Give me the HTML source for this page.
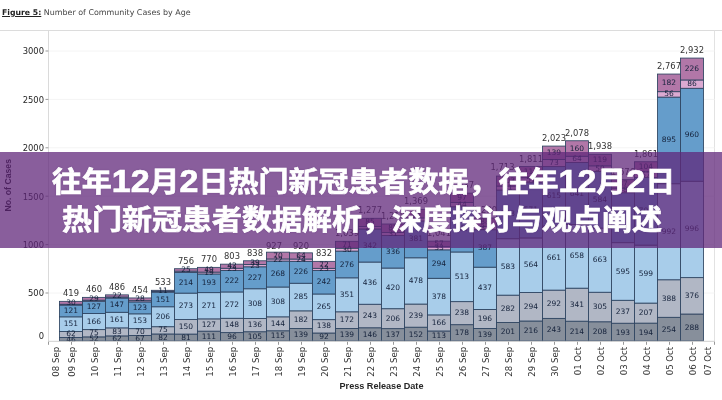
<!DOCTYPE html>
<html lang="zh-CN">
<head>
<meta charset="utf-8">
<title>往年12月2日热门新冠患者数据</title>
<style>
html,body{margin:0;padding:0;}
body{width:722px;height:400px;overflow:hidden;background:#fff;position:relative;font-family:"Liberation Sans","Noto Sans CJK SC",sans-serif;}
.chart{position:absolute;left:0;top:0;display:block;}
.figtitle{position:absolute;left:2px;top:6.5px;font-family:"DejaVu Sans","Liberation Sans",sans-serif;font-size:7.95px;line-height:12px;color:#444;white-space:nowrap;}
.figtitle b{text-decoration:underline;color:#222;font-size:7.75px;}
h1 span{position:relative;display:inline-block;transform:scaleY(0.93);transform-origin:50% 50%;white-space:nowrap;}
.l1{left:2.5px;}
.l2{left:1px;}
b.d{font-size:34px;line-height:1px;font-weight:bold;}
.band{position:absolute;left:0;top:152px;width:722px;height:96px;background:rgba(96,38,122,0.74);}
.band h1{margin:0;padding:12.4px 0 0 0;text-align:center;color:#fff;font-weight:bold;font-size:30px;line-height:37.5px;-webkit-text-stroke:0.75px #fff;text-shadow:0 0 2px rgba(70,30,100,0.45);font-family:"Liberation Sans","Noto Sans CJK SC",sans-serif;}
</style>
</head>
<body>
<svg class="chart" width="722" height="400" viewBox="0 0 722 400">
<line x1="0" y1="30.5" x2="722" y2="30.5" stroke="#dcdcdc" stroke-width="1"/>
<line x1="48.5" y1="30.5" x2="48.5" y2="341.3" stroke="#dadada" stroke-width="1"/>
<line x1="714.5" y1="30.5" x2="714.5" y2="341.3" stroke="#e2e2e2" stroke-width="1"/>
<g font-family="'DejaVu Sans', 'Liberation Sans', sans-serif" font-size="8.4" fill="#262626" text-anchor="end">
<line x1="48.5" y1="293.0" x2="714.5" y2="293.0" stroke="#f4f4f4" stroke-width="1"/>
<line x1="45.5" y1="293.0" x2="48.5" y2="293.0" stroke="#999" stroke-width="1"/>
<text x="44" y="296.3">500</text>
<line x1="48.5" y1="244.6" x2="714.5" y2="244.6" stroke="#f4f4f4" stroke-width="1"/>
<line x1="45.5" y1="244.6" x2="48.5" y2="244.6" stroke="#999" stroke-width="1"/>
<text x="44" y="247.9">1000</text>
<line x1="48.5" y1="196.2" x2="714.5" y2="196.2" stroke="#f4f4f4" stroke-width="1"/>
<line x1="45.5" y1="196.2" x2="48.5" y2="196.2" stroke="#999" stroke-width="1"/>
<text x="44" y="199.5">1500</text>
<line x1="48.5" y1="147.8" x2="714.5" y2="147.8" stroke="#f4f4f4" stroke-width="1"/>
<line x1="45.5" y1="147.8" x2="48.5" y2="147.8" stroke="#999" stroke-width="1"/>
<text x="44" y="151.1">2000</text>
<line x1="48.5" y1="99.4" x2="714.5" y2="99.4" stroke="#f4f4f4" stroke-width="1"/>
<line x1="45.5" y1="99.4" x2="48.5" y2="99.4" stroke="#999" stroke-width="1"/>
<text x="44" y="102.7">2500</text>
<line x1="48.5" y1="51.0" x2="714.5" y2="51.0" stroke="#f4f4f4" stroke-width="1"/>
<line x1="45.5" y1="51.0" x2="48.5" y2="51.0" stroke="#999" stroke-width="1"/>
<text x="44" y="54.3">3000</text>
<text x="44" y="338.6">0</text>
</g>
<rect x="59.5" y="337.45" width="23" height="3.35" fill="#878f9b" stroke="#2d4360" stroke-width="0.85"/>
<rect x="59.5" y="331.45" width="23" height="6.00" fill="#b1b7c5" stroke="#2d4360" stroke-width="0.85"/>
<rect x="59.5" y="316.83" width="23" height="14.62" fill="#a8cdea" stroke="#2d4360" stroke-width="0.85"/>
<rect x="59.5" y="305.12" width="23" height="11.71" fill="#659dcb" stroke="#2d4360" stroke-width="0.85"/>
<rect x="59.5" y="304.24" width="23" height="0.87" fill="#dbaad2" stroke="#2d4360" stroke-width="0.85"/>
<rect x="59.5" y="301.34" width="23" height="2.90" fill="#b277a8" stroke="#2d4360" stroke-width="0.85"/>
<rect x="82.5" y="336.87" width="23" height="3.93" fill="#878f9b" stroke="#2d4360" stroke-width="0.85"/>
<rect x="82.5" y="329.61" width="23" height="7.26" fill="#b1b7c5" stroke="#2d4360" stroke-width="0.85"/>
<rect x="82.5" y="313.54" width="23" height="16.07" fill="#a8cdea" stroke="#2d4360" stroke-width="0.85"/>
<rect x="82.5" y="301.24" width="23" height="12.29" fill="#659dcb" stroke="#2d4360" stroke-width="0.85"/>
<rect x="82.5" y="300.18" width="23" height="1.06" fill="#dbaad2" stroke="#2d4360" stroke-width="0.85"/>
<rect x="82.5" y="297.37" width="23" height="2.81" fill="#b277a8" stroke="#2d4360" stroke-width="0.85"/>
<rect x="105.5" y="335.90" width="23" height="4.90" fill="#878f9b" stroke="#2d4360" stroke-width="0.85"/>
<rect x="105.5" y="327.86" width="23" height="8.03" fill="#b1b7c5" stroke="#2d4360" stroke-width="0.85"/>
<rect x="105.5" y="312.28" width="23" height="15.58" fill="#a8cdea" stroke="#2d4360" stroke-width="0.85"/>
<rect x="105.5" y="298.05" width="23" height="14.23" fill="#659dcb" stroke="#2d4360" stroke-width="0.85"/>
<rect x="105.5" y="296.98" width="23" height="1.06" fill="#dbaad2" stroke="#2d4360" stroke-width="0.85"/>
<rect x="105.5" y="294.86" width="23" height="2.13" fill="#b277a8" stroke="#2d4360" stroke-width="0.85"/>
<rect x="128.5" y="335.41" width="23" height="5.39" fill="#878f9b" stroke="#2d4360" stroke-width="0.85"/>
<rect x="128.5" y="328.64" width="23" height="6.78" fill="#b1b7c5" stroke="#2d4360" stroke-width="0.85"/>
<rect x="128.5" y="313.83" width="23" height="14.81" fill="#a8cdea" stroke="#2d4360" stroke-width="0.85"/>
<rect x="128.5" y="301.92" width="23" height="11.91" fill="#659dcb" stroke="#2d4360" stroke-width="0.85"/>
<rect x="128.5" y="300.66" width="23" height="1.26" fill="#dbaad2" stroke="#2d4360" stroke-width="0.85"/>
<rect x="128.5" y="297.95" width="23" height="2.71" fill="#b277a8" stroke="#2d4360" stroke-width="0.85"/>
<rect x="151.5" y="333.96" width="23" height="6.84" fill="#878f9b" stroke="#2d4360" stroke-width="0.85"/>
<rect x="151.5" y="326.70" width="23" height="7.26" fill="#b1b7c5" stroke="#2d4360" stroke-width="0.85"/>
<rect x="151.5" y="306.76" width="23" height="19.94" fill="#a8cdea" stroke="#2d4360" stroke-width="0.85"/>
<rect x="151.5" y="292.14" width="23" height="14.62" fill="#659dcb" stroke="#2d4360" stroke-width="0.85"/>
<rect x="151.5" y="291.37" width="23" height="0.77" fill="#dbaad2" stroke="#2d4360" stroke-width="0.85"/>
<rect x="151.5" y="290.31" width="23" height="1.06" fill="#b277a8" stroke="#2d4360" stroke-width="0.85"/>
<rect x="174.5" y="334.06" width="23" height="6.74" fill="#878f9b" stroke="#2d4360" stroke-width="0.85"/>
<rect x="174.5" y="319.54" width="23" height="14.52" fill="#b1b7c5" stroke="#2d4360" stroke-width="0.85"/>
<rect x="174.5" y="293.11" width="23" height="26.43" fill="#a8cdea" stroke="#2d4360" stroke-width="0.85"/>
<rect x="174.5" y="272.40" width="23" height="20.72" fill="#659dcb" stroke="#2d4360" stroke-width="0.85"/>
<rect x="174.5" y="271.14" width="23" height="1.26" fill="#dbaad2" stroke="#2d4360" stroke-width="0.85"/>
<rect x="174.5" y="268.72" width="23" height="2.42" fill="#b277a8" stroke="#2d4360" stroke-width="0.85"/>
<rect x="197.5" y="331.16" width="23" height="9.64" fill="#878f9b" stroke="#2d4360" stroke-width="0.85"/>
<rect x="197.5" y="318.86" width="23" height="12.29" fill="#b1b7c5" stroke="#2d4360" stroke-width="0.85"/>
<rect x="197.5" y="292.63" width="23" height="26.23" fill="#a8cdea" stroke="#2d4360" stroke-width="0.85"/>
<rect x="197.5" y="273.95" width="23" height="18.68" fill="#659dcb" stroke="#2d4360" stroke-width="0.85"/>
<rect x="197.5" y="272.11" width="23" height="1.84" fill="#dbaad2" stroke="#2d4360" stroke-width="0.85"/>
<rect x="197.5" y="267.36" width="23" height="4.74" fill="#b277a8" stroke="#2d4360" stroke-width="0.85"/>
<rect x="220.5" y="332.61" width="23" height="8.19" fill="#878f9b" stroke="#2d4360" stroke-width="0.85"/>
<rect x="220.5" y="318.28" width="23" height="14.33" fill="#b1b7c5" stroke="#2d4360" stroke-width="0.85"/>
<rect x="220.5" y="291.95" width="23" height="26.33" fill="#a8cdea" stroke="#2d4360" stroke-width="0.85"/>
<rect x="220.5" y="270.46" width="23" height="21.49" fill="#659dcb" stroke="#2d4360" stroke-width="0.85"/>
<rect x="220.5" y="268.24" width="23" height="2.23" fill="#dbaad2" stroke="#2d4360" stroke-width="0.85"/>
<rect x="220.5" y="264.17" width="23" height="4.07" fill="#b277a8" stroke="#2d4360" stroke-width="0.85"/>
<rect x="243.5" y="331.74" width="23" height="9.06" fill="#878f9b" stroke="#2d4360" stroke-width="0.85"/>
<rect x="243.5" y="318.57" width="23" height="13.16" fill="#b1b7c5" stroke="#2d4360" stroke-width="0.85"/>
<rect x="243.5" y="288.76" width="23" height="29.81" fill="#a8cdea" stroke="#2d4360" stroke-width="0.85"/>
<rect x="243.5" y="266.78" width="23" height="21.97" fill="#659dcb" stroke="#2d4360" stroke-width="0.85"/>
<rect x="243.5" y="264.56" width="23" height="2.23" fill="#dbaad2" stroke="#2d4360" stroke-width="0.85"/>
<rect x="243.5" y="260.78" width="23" height="3.78" fill="#b277a8" stroke="#2d4360" stroke-width="0.85"/>
<rect x="266.5" y="330.77" width="23" height="10.03" fill="#878f9b" stroke="#2d4360" stroke-width="0.85"/>
<rect x="266.5" y="316.83" width="23" height="13.94" fill="#b1b7c5" stroke="#2d4360" stroke-width="0.85"/>
<rect x="266.5" y="287.01" width="23" height="29.81" fill="#a8cdea" stroke="#2d4360" stroke-width="0.85"/>
<rect x="266.5" y="261.07" width="23" height="25.94" fill="#659dcb" stroke="#2d4360" stroke-width="0.85"/>
<rect x="266.5" y="258.94" width="23" height="2.13" fill="#dbaad2" stroke="#2d4360" stroke-width="0.85"/>
<rect x="266.5" y="252.17" width="23" height="6.78" fill="#b277a8" stroke="#2d4360" stroke-width="0.85"/>
<rect x="289.5" y="328.44" width="23" height="12.36" fill="#878f9b" stroke="#2d4360" stroke-width="0.85"/>
<rect x="289.5" y="310.83" width="23" height="17.62" fill="#b1b7c5" stroke="#2d4360" stroke-width="0.85"/>
<rect x="289.5" y="283.24" width="23" height="27.59" fill="#a8cdea" stroke="#2d4360" stroke-width="0.85"/>
<rect x="289.5" y="261.36" width="23" height="21.88" fill="#659dcb" stroke="#2d4360" stroke-width="0.85"/>
<rect x="289.5" y="259.04" width="23" height="2.32" fill="#dbaad2" stroke="#2d4360" stroke-width="0.85"/>
<rect x="289.5" y="252.84" width="23" height="6.20" fill="#b277a8" stroke="#2d4360" stroke-width="0.85"/>
<rect x="312.5" y="332.99" width="23" height="7.81" fill="#878f9b" stroke="#2d4360" stroke-width="0.85"/>
<rect x="312.5" y="319.64" width="23" height="13.36" fill="#b1b7c5" stroke="#2d4360" stroke-width="0.85"/>
<rect x="312.5" y="293.98" width="23" height="25.65" fill="#a8cdea" stroke="#2d4360" stroke-width="0.85"/>
<rect x="312.5" y="270.56" width="23" height="23.43" fill="#659dcb" stroke="#2d4360" stroke-width="0.85"/>
<rect x="312.5" y="268.33" width="23" height="2.23" fill="#dbaad2" stroke="#2d4360" stroke-width="0.85"/>
<rect x="312.5" y="261.36" width="23" height="6.97" fill="#b277a8" stroke="#2d4360" stroke-width="0.85"/>
<rect x="335.5" y="328.44" width="23" height="12.36" fill="#878f9b" stroke="#2d4360" stroke-width="0.85"/>
<rect x="335.5" y="311.80" width="23" height="16.65" fill="#b1b7c5" stroke="#2d4360" stroke-width="0.85"/>
<rect x="335.5" y="277.82" width="23" height="33.98" fill="#a8cdea" stroke="#2d4360" stroke-width="0.85"/>
<rect x="335.5" y="251.10" width="23" height="26.72" fill="#659dcb" stroke="#2d4360" stroke-width="0.85"/>
<rect x="335.5" y="248.20" width="23" height="2.90" fill="#dbaad2" stroke="#2d4360" stroke-width="0.85"/>
<rect x="335.5" y="241.32" width="23" height="6.87" fill="#b277a8" stroke="#2d4360" stroke-width="0.85"/>
<rect x="358.5" y="327.77" width="23" height="13.03" fill="#878f9b" stroke="#2d4360" stroke-width="0.85"/>
<rect x="358.5" y="304.24" width="23" height="23.52" fill="#b1b7c5" stroke="#2d4360" stroke-width="0.85"/>
<rect x="358.5" y="262.04" width="23" height="42.20" fill="#a8cdea" stroke="#2d4360" stroke-width="0.85"/>
<rect x="358.5" y="228.93" width="23" height="33.11" fill="#659dcb" stroke="#2d4360" stroke-width="0.85"/>
<rect x="358.5" y="226.51" width="23" height="2.42" fill="#dbaad2" stroke="#2d4360" stroke-width="0.85"/>
<rect x="358.5" y="218.29" width="23" height="8.23" fill="#b277a8" stroke="#2d4360" stroke-width="0.85"/>
<rect x="381.5" y="328.64" width="23" height="12.16" fill="#878f9b" stroke="#2d4360" stroke-width="0.85"/>
<rect x="381.5" y="308.70" width="23" height="19.94" fill="#b1b7c5" stroke="#2d4360" stroke-width="0.85"/>
<rect x="381.5" y="268.04" width="23" height="40.66" fill="#a8cdea" stroke="#2d4360" stroke-width="0.85"/>
<rect x="381.5" y="235.52" width="23" height="32.52" fill="#659dcb" stroke="#2d4360" stroke-width="0.85"/>
<rect x="381.5" y="232.52" width="23" height="3.00" fill="#dbaad2" stroke="#2d4360" stroke-width="0.85"/>
<rect x="381.5" y="224.00" width="23" height="8.52" fill="#b277a8" stroke="#2d4360" stroke-width="0.85"/>
<rect x="404.5" y="327.19" width="23" height="13.61" fill="#878f9b" stroke="#2d4360" stroke-width="0.85"/>
<rect x="404.5" y="304.05" width="23" height="23.14" fill="#b1b7c5" stroke="#2d4360" stroke-width="0.85"/>
<rect x="404.5" y="257.78" width="23" height="46.27" fill="#a8cdea" stroke="#2d4360" stroke-width="0.85"/>
<rect x="404.5" y="220.90" width="23" height="36.88" fill="#659dcb" stroke="#2d4360" stroke-width="0.85"/>
<rect x="404.5" y="217.90" width="23" height="3.00" fill="#dbaad2" stroke="#2d4360" stroke-width="0.85"/>
<rect x="404.5" y="209.38" width="23" height="8.52" fill="#b277a8" stroke="#2d4360" stroke-width="0.85"/>
<rect x="427.5" y="330.96" width="23" height="9.84" fill="#878f9b" stroke="#2d4360" stroke-width="0.85"/>
<rect x="427.5" y="314.89" width="23" height="16.07" fill="#b1b7c5" stroke="#2d4360" stroke-width="0.85"/>
<rect x="427.5" y="278.30" width="23" height="36.59" fill="#a8cdea" stroke="#2d4360" stroke-width="0.85"/>
<rect x="427.5" y="249.84" width="23" height="28.46" fill="#659dcb" stroke="#2d4360" stroke-width="0.85"/>
<rect x="427.5" y="246.65" width="23" height="3.19" fill="#dbaad2" stroke="#2d4360" stroke-width="0.85"/>
<rect x="427.5" y="241.13" width="23" height="5.52" fill="#b277a8" stroke="#2d4360" stroke-width="0.85"/>
<rect x="450.5" y="324.67" width="23" height="16.13" fill="#878f9b" stroke="#2d4360" stroke-width="0.85"/>
<rect x="450.5" y="301.63" width="23" height="23.04" fill="#b1b7c5" stroke="#2d4360" stroke-width="0.85"/>
<rect x="450.5" y="251.97" width="23" height="49.66" fill="#a8cdea" stroke="#2d4360" stroke-width="0.85"/>
<rect x="450.5" y="206.77" width="23" height="45.21" fill="#659dcb" stroke="#2d4360" stroke-width="0.85"/>
<rect x="450.5" y="202.51" width="23" height="4.26" fill="#dbaad2" stroke="#2d4360" stroke-width="0.85"/>
<rect x="450.5" y="193.12" width="23" height="9.39" fill="#b277a8" stroke="#2d4360" stroke-width="0.85"/>
<rect x="473.5" y="328.44" width="23" height="12.36" fill="#878f9b" stroke="#2d4360" stroke-width="0.85"/>
<rect x="473.5" y="309.47" width="23" height="18.97" fill="#b1b7c5" stroke="#2d4360" stroke-width="0.85"/>
<rect x="473.5" y="267.17" width="23" height="42.30" fill="#a8cdea" stroke="#2d4360" stroke-width="0.85"/>
<rect x="473.5" y="229.71" width="23" height="37.46" fill="#659dcb" stroke="#2d4360" stroke-width="0.85"/>
<rect x="473.5" y="226.51" width="23" height="3.19" fill="#dbaad2" stroke="#2d4360" stroke-width="0.85"/>
<rect x="473.5" y="218.00" width="23" height="8.52" fill="#b277a8" stroke="#2d4360" stroke-width="0.85"/>
<rect x="496.5" y="322.44" width="23" height="18.36" fill="#878f9b" stroke="#2d4360" stroke-width="0.85"/>
<rect x="496.5" y="295.15" width="23" height="27.30" fill="#b1b7c5" stroke="#2d4360" stroke-width="0.85"/>
<rect x="496.5" y="238.71" width="23" height="56.43" fill="#a8cdea" stroke="#2d4360" stroke-width="0.85"/>
<rect x="496.5" y="190.02" width="23" height="48.69" fill="#659dcb" stroke="#2d4360" stroke-width="0.85"/>
<rect x="496.5" y="186.05" width="23" height="3.97" fill="#dbaad2" stroke="#2d4360" stroke-width="0.85"/>
<rect x="496.5" y="176.08" width="23" height="9.97" fill="#b277a8" stroke="#2d4360" stroke-width="0.85"/>
<rect x="519.5" y="320.99" width="23" height="19.81" fill="#878f9b" stroke="#2d4360" stroke-width="0.85"/>
<rect x="519.5" y="292.53" width="23" height="28.46" fill="#b1b7c5" stroke="#2d4360" stroke-width="0.85"/>
<rect x="519.5" y="237.94" width="23" height="54.60" fill="#a8cdea" stroke="#2d4360" stroke-width="0.85"/>
<rect x="519.5" y="182.66" width="23" height="55.27" fill="#659dcb" stroke="#2d4360" stroke-width="0.85"/>
<rect x="519.5" y="177.73" width="23" height="4.94" fill="#dbaad2" stroke="#2d4360" stroke-width="0.85"/>
<rect x="519.5" y="166.60" width="23" height="11.13" fill="#b277a8" stroke="#2d4360" stroke-width="0.85"/>
<rect x="542.5" y="318.38" width="23" height="22.42" fill="#878f9b" stroke="#2d4360" stroke-width="0.85"/>
<rect x="542.5" y="290.11" width="23" height="28.27" fill="#b1b7c5" stroke="#2d4360" stroke-width="0.85"/>
<rect x="542.5" y="226.13" width="23" height="63.98" fill="#a8cdea" stroke="#2d4360" stroke-width="0.85"/>
<rect x="542.5" y="166.60" width="23" height="59.53" fill="#659dcb" stroke="#2d4360" stroke-width="0.85"/>
<rect x="542.5" y="159.53" width="23" height="7.07" fill="#dbaad2" stroke="#2d4360" stroke-width="0.85"/>
<rect x="542.5" y="146.07" width="23" height="13.46" fill="#b277a8" stroke="#2d4360" stroke-width="0.85"/>
<rect x="565.5" y="321.18" width="23" height="19.62" fill="#878f9b" stroke="#2d4360" stroke-width="0.85"/>
<rect x="565.5" y="288.18" width="23" height="33.01" fill="#b1b7c5" stroke="#2d4360" stroke-width="0.85"/>
<rect x="565.5" y="224.48" width="23" height="63.69" fill="#a8cdea" stroke="#2d4360" stroke-width="0.85"/>
<rect x="565.5" y="162.43" width="23" height="62.05" fill="#659dcb" stroke="#2d4360" stroke-width="0.85"/>
<rect x="565.5" y="156.24" width="23" height="6.20" fill="#dbaad2" stroke="#2d4360" stroke-width="0.85"/>
<rect x="565.5" y="140.75" width="23" height="15.49" fill="#b277a8" stroke="#2d4360" stroke-width="0.85"/>
<rect x="588.5" y="321.77" width="23" height="19.03" fill="#878f9b" stroke="#2d4360" stroke-width="0.85"/>
<rect x="588.5" y="292.24" width="23" height="29.52" fill="#b1b7c5" stroke="#2d4360" stroke-width="0.85"/>
<rect x="588.5" y="228.06" width="23" height="64.18" fill="#a8cdea" stroke="#2d4360" stroke-width="0.85"/>
<rect x="588.5" y="171.53" width="23" height="56.53" fill="#659dcb" stroke="#2d4360" stroke-width="0.85"/>
<rect x="588.5" y="165.82" width="23" height="5.71" fill="#dbaad2" stroke="#2d4360" stroke-width="0.85"/>
<rect x="588.5" y="154.30" width="23" height="11.52" fill="#b277a8" stroke="#2d4360" stroke-width="0.85"/>
<rect x="611.5" y="323.22" width="23" height="17.58" fill="#878f9b" stroke="#2d4360" stroke-width="0.85"/>
<rect x="611.5" y="300.28" width="23" height="22.94" fill="#b1b7c5" stroke="#2d4360" stroke-width="0.85"/>
<rect x="611.5" y="242.68" width="23" height="57.60" fill="#a8cdea" stroke="#2d4360" stroke-width="0.85"/>
<rect x="611.5" y="192.73" width="23" height="49.95" fill="#659dcb" stroke="#2d4360" stroke-width="0.85"/>
<rect x="611.5" y="188.08" width="23" height="4.65" fill="#dbaad2" stroke="#2d4360" stroke-width="0.85"/>
<rect x="611.5" y="179.66" width="23" height="8.42" fill="#b277a8" stroke="#2d4360" stroke-width="0.85"/>
<rect x="634.5" y="323.12" width="23" height="17.68" fill="#878f9b" stroke="#2d4360" stroke-width="0.85"/>
<rect x="634.5" y="303.08" width="23" height="20.04" fill="#b1b7c5" stroke="#2d4360" stroke-width="0.85"/>
<rect x="634.5" y="245.10" width="23" height="57.98" fill="#a8cdea" stroke="#2d4360" stroke-width="0.85"/>
<rect x="634.5" y="177.34" width="23" height="67.76" fill="#659dcb" stroke="#2d4360" stroke-width="0.85"/>
<rect x="634.5" y="171.82" width="23" height="5.52" fill="#dbaad2" stroke="#2d4360" stroke-width="0.85"/>
<rect x="634.5" y="161.76" width="23" height="10.07" fill="#b277a8" stroke="#2d4360" stroke-width="0.85"/>
<rect x="657.5" y="317.31" width="23" height="23.49" fill="#878f9b" stroke="#2d4360" stroke-width="0.85"/>
<rect x="657.5" y="279.75" width="23" height="37.56" fill="#b1b7c5" stroke="#2d4360" stroke-width="0.85"/>
<rect x="657.5" y="183.73" width="23" height="96.03" fill="#a8cdea" stroke="#2d4360" stroke-width="0.85"/>
<rect x="657.5" y="97.09" width="23" height="86.64" fill="#659dcb" stroke="#2d4360" stroke-width="0.85"/>
<rect x="657.5" y="91.67" width="23" height="5.42" fill="#dbaad2" stroke="#2d4360" stroke-width="0.85"/>
<rect x="657.5" y="74.05" width="23" height="17.62" fill="#b277a8" stroke="#2d4360" stroke-width="0.85"/>
<rect x="680.5" y="314.02" width="23" height="26.78" fill="#878f9b" stroke="#2d4360" stroke-width="0.85"/>
<rect x="680.5" y="277.62" width="23" height="36.40" fill="#b1b7c5" stroke="#2d4360" stroke-width="0.85"/>
<rect x="680.5" y="181.21" width="23" height="96.41" fill="#a8cdea" stroke="#2d4360" stroke-width="0.85"/>
<rect x="680.5" y="88.28" width="23" height="92.93" fill="#659dcb" stroke="#2d4360" stroke-width="0.85"/>
<rect x="680.5" y="79.96" width="23" height="8.32" fill="#dbaad2" stroke="#2d4360" stroke-width="0.85"/>
<rect x="680.5" y="58.08" width="23" height="21.88" fill="#b277a8" stroke="#2d4360" stroke-width="0.85"/>
<g font-family="'DejaVu Sans', 'Liberation Sans', sans-serif" font-size="7.5" fill="#14213a" text-anchor="middle">
<text x="71" y="341.7">46</text>
<text x="71" y="336.4">62</text>
<text x="71" y="326.1">151</text>
<text x="71" y="313.0">121</text>
<text x="71" y="304.8">30</text>
<text x="94" y="341.4">52</text>
<text x="94" y="335.2">75</text>
<text x="94" y="323.6">166</text>
<text x="94" y="309.4">127</text>
<text x="94" y="300.8">29</text>
<text x="117" y="340.9">62</text>
<text x="117" y="333.9">83</text>
<text x="117" y="322.1">161</text>
<text x="117" y="307.2">147</text>
<text x="117" y="297.9">22</text>
<text x="140" y="340.7">67</text>
<text x="140" y="334.0">70</text>
<text x="140" y="323.2">153</text>
<text x="140" y="309.9">123</text>
<text x="140" y="301.3">28</text>
<text x="163" y="339.9">82</text>
<text x="163" y="332.3">75</text>
<text x="163" y="318.7">206</text>
<text x="163" y="301.5">151</text>
<text x="163" y="292.8">11</text>
<text x="186" y="340.0">81</text>
<text x="186" y="328.8">150</text>
<text x="186" y="308.3">273</text>
<text x="186" y="284.8">214</text>
<text x="186" y="271.9">25</text>
<text x="209" y="338.5">111</text>
<text x="209" y="327.0">127</text>
<text x="209" y="307.7">271</text>
<text x="209" y="285.3">193</text>
<text x="209" y="275.0">19</text>
<text x="209" y="271.7">49</text>
<text x="232" y="339.3">96</text>
<text x="232" y="327.4">148</text>
<text x="232" y="307.1">272</text>
<text x="232" y="283.2">222</text>
<text x="232" y="271.3">23</text>
<text x="232" y="268.2">42</text>
<text x="255" y="338.8">105</text>
<text x="255" y="327.2">136</text>
<text x="255" y="305.7">308</text>
<text x="255" y="279.8">227</text>
<text x="255" y="267.7">23</text>
<text x="255" y="264.7">39</text>
<text x="278" y="338.3">115</text>
<text x="278" y="325.8">144</text>
<text x="278" y="303.9">308</text>
<text x="278" y="276.0">268</text>
<text x="278" y="262.0">22</text>
<text x="278" y="257.6">70</text>
<text x="301" y="337.2">139</text>
<text x="301" y="321.6">182</text>
<text x="301" y="299.0">285</text>
<text x="301" y="274.3">226</text>
<text x="301" y="262.2">24</text>
<text x="301" y="257.9">64</text>
<text x="324" y="339.4">92</text>
<text x="324" y="328.3">138</text>
<text x="324" y="308.8">265</text>
<text x="324" y="284.3">242</text>
<text x="324" y="271.4">23</text>
<text x="324" y="266.8">72</text>
<text x="347" y="337.2">139</text>
<text x="347" y="322.1">172</text>
<text x="347" y="296.8">351</text>
<text x="347" y="266.5">276</text>
<text x="347" y="251.6">30</text>
<text x="347" y="246.8">71</text>
<text x="370" y="336.8">146</text>
<text x="370" y="318.0">243</text>
<text x="370" y="285.1">436</text>
<text x="370" y="247.5">342</text>
<text x="370" y="229.7">25</text>
<text x="370" y="224.4">85</text>
<text x="393" y="337.3">137</text>
<text x="393" y="320.7">206</text>
<text x="393" y="290.4">420</text>
<text x="393" y="253.8">336</text>
<text x="393" y="236.0">31</text>
<text x="393" y="230.3">88</text>
<text x="416" y="336.5">152</text>
<text x="416" y="317.6">239</text>
<text x="416" y="282.9">478</text>
<text x="416" y="241.3">381</text>
<text x="416" y="221.4">31</text>
<text x="416" y="215.6">88</text>
<text x="439" y="338.4">113</text>
<text x="439" y="324.9">166</text>
<text x="439" y="298.6">378</text>
<text x="439" y="266.1">294</text>
<text x="439" y="250.2">33</text>
<text x="439" y="245.9">57</text>
<text x="462" y="335.3">178</text>
<text x="462" y="315.2">238</text>
<text x="462" y="278.8">513</text>
<text x="462" y="231.4">467</text>
<text x="462" y="206.6">44</text>
<text x="462" y="199.8">97</text>
<text x="485" y="337.2">139</text>
<text x="485" y="321.0">196</text>
<text x="485" y="290.3">437</text>
<text x="485" y="250.4">387</text>
<text x="485" y="230.1">33</text>
<text x="485" y="224.3">88</text>
<text x="508" y="334.2">201</text>
<text x="508" y="310.8">282</text>
<text x="508" y="268.9">583</text>
<text x="508" y="216.4">503</text>
<text x="508" y="190.0">41</text>
<text x="508" y="183.1">103</text>
<text x="531" y="333.4">216</text>
<text x="531" y="308.8">294</text>
<text x="531" y="267.2">564</text>
<text x="531" y="212.3">571</text>
<text x="531" y="182.2">51</text>
<text x="531" y="174.2">115</text>
<text x="554" y="332.1">243</text>
<text x="554" y="306.2">292</text>
<text x="554" y="260.1">661</text>
<text x="554" y="198.4">615</text>
<text x="554" y="165.1">73</text>
<text x="554" y="154.8">139</text>
<text x="577" y="333.5">214</text>
<text x="577" y="306.7">341</text>
<text x="577" y="258.3">658</text>
<text x="577" y="195.5">641</text>
<text x="577" y="161.3">64</text>
<text x="577" y="150.5">160</text>
<text x="600" y="333.8">208</text>
<text x="600" y="309.0">305</text>
<text x="600" y="262.2">663</text>
<text x="600" y="201.8">584</text>
<text x="600" y="170.7">59</text>
<text x="600" y="162.1">119</text>
<text x="623" y="334.6">193</text>
<text x="623" y="313.7">237</text>
<text x="623" y="273.5">595</text>
<text x="623" y="219.7">516</text>
<text x="623" y="192.4">48</text>
<text x="623" y="185.9">87</text>
<text x="646" y="334.5">194</text>
<text x="646" y="315.1">207</text>
<text x="646" y="276.1">599</text>
<text x="646" y="213.2">700</text>
<text x="646" y="176.6">57</text>
<text x="646" y="168.8">104</text>
<text x="669" y="331.6">254</text>
<text x="669" y="300.5">388</text>
<text x="669" y="233.7">992</text>
<text x="669" y="142.4">895</text>
<text x="669" y="96.4">56</text>
<text x="669" y="84.9">182</text>
<text x="692" y="330.0">288</text>
<text x="692" y="297.8">376</text>
<text x="692" y="231.4">996</text>
<text x="692" y="136.7">960</text>
<text x="692" y="86.1">86</text>
<text x="692" y="71.0">226</text>
</g>
<g font-family="'DejaVu Sans', 'Liberation Sans', sans-serif" font-size="8.4" fill="#333" text-anchor="middle">
<text x="71" y="296.3">419</text>
<text x="94" y="292.4">460</text>
<text x="117" y="289.9">486</text>
<text x="140" y="293.0">454</text>
<text x="163" y="285.3">533</text>
<text x="186" y="263.7">756</text>
<text x="209" y="262.4">770</text>
<text x="232" y="259.2">803</text>
<text x="255" y="255.8">838</text>
<text x="274" y="248.8">927</text>
<text x="301" y="249.2">920</text>
<text x="324" y="256.4">832</text>
<text x="347" y="236.3">1,039</text>
<text x="370" y="213.3">1,277</text>
<text x="393" y="219.0">1,218</text>
<text x="416" y="204.4">1,369</text>
<text x="439" y="236.1">1,041</text>
<text x="462" y="188.1">1,537</text>
<text x="485" y="213.0">1,280</text>
<text x="502.5" y="170.3">1,713</text>
<text x="531" y="161.6">1,811</text>
<text x="554" y="141.1">2,023</text>
<text x="577" y="135.7">2,078</text>
<text x="600" y="149.3">1,938</text>
<text x="623" y="174.7">1,676</text>
<text x="646" y="156.8">1,861</text>
<text x="669" y="69.1">2,767</text>
<text x="692" y="53.1">2,932</text>
</g>
<line x1="48.0" y1="341.3" x2="715.0" y2="341.3" stroke="#cfcfcf" stroke-width="1"/>
<g font-family="'DejaVu Sans', 'Liberation Sans', sans-serif" font-size="8.6" fill="#333" text-anchor="end">
<line x1="48.5" y1="341.8" x2="48.5" y2="344.8" stroke="#999" stroke-width="1"/>
<text transform="translate(58.7,346.8) rotate(-90)">08 Sep</text>
<line x1="71.5" y1="341.8" x2="71.5" y2="344.8" stroke="#999" stroke-width="1"/>
<text transform="translate(74.7,346.8) rotate(-90)">09 Sep</text>
<line x1="94.5" y1="341.8" x2="94.5" y2="344.8" stroke="#999" stroke-width="1"/>
<text transform="translate(97.7,346.8) rotate(-90)">10 Sep</text>
<line x1="117.5" y1="341.8" x2="117.5" y2="344.8" stroke="#999" stroke-width="1"/>
<text transform="translate(120.7,346.8) rotate(-90)">11 Sep</text>
<line x1="140.5" y1="341.8" x2="140.5" y2="344.8" stroke="#999" stroke-width="1"/>
<text transform="translate(143.7,346.8) rotate(-90)">12 Sep</text>
<line x1="163.5" y1="341.8" x2="163.5" y2="344.8" stroke="#999" stroke-width="1"/>
<text transform="translate(166.7,346.8) rotate(-90)">13 Sep</text>
<line x1="186.5" y1="341.8" x2="186.5" y2="344.8" stroke="#999" stroke-width="1"/>
<text transform="translate(189.7,346.8) rotate(-90)">14 Sep</text>
<line x1="209.5" y1="341.8" x2="209.5" y2="344.8" stroke="#999" stroke-width="1"/>
<text transform="translate(212.7,346.8) rotate(-90)">15 Sep</text>
<line x1="232.5" y1="341.8" x2="232.5" y2="344.8" stroke="#999" stroke-width="1"/>
<text transform="translate(235.7,346.8) rotate(-90)">16 Sep</text>
<line x1="255.5" y1="341.8" x2="255.5" y2="344.8" stroke="#999" stroke-width="1"/>
<text transform="translate(258.7,346.8) rotate(-90)">17 Sep</text>
<line x1="278.5" y1="341.8" x2="278.5" y2="344.8" stroke="#999" stroke-width="1"/>
<text transform="translate(281.7,346.8) rotate(-90)">18 Sep</text>
<line x1="301.5" y1="341.8" x2="301.5" y2="344.8" stroke="#999" stroke-width="1"/>
<text transform="translate(304.7,346.8) rotate(-90)">19 Sep</text>
<line x1="324.5" y1="341.8" x2="324.5" y2="344.8" stroke="#999" stroke-width="1"/>
<text transform="translate(327.7,346.8) rotate(-90)">20 Sep</text>
<line x1="347.5" y1="341.8" x2="347.5" y2="344.8" stroke="#999" stroke-width="1"/>
<text transform="translate(350.7,346.8) rotate(-90)">21 Sep</text>
<line x1="370.5" y1="341.8" x2="370.5" y2="344.8" stroke="#999" stroke-width="1"/>
<text transform="translate(373.7,346.8) rotate(-90)">22 Sep</text>
<line x1="393.5" y1="341.8" x2="393.5" y2="344.8" stroke="#999" stroke-width="1"/>
<text transform="translate(396.7,346.8) rotate(-90)">23 Sep</text>
<line x1="416.5" y1="341.8" x2="416.5" y2="344.8" stroke="#999" stroke-width="1"/>
<text transform="translate(419.7,346.8) rotate(-90)">24 Sep</text>
<line x1="439.5" y1="341.8" x2="439.5" y2="344.8" stroke="#999" stroke-width="1"/>
<text transform="translate(442.7,346.8) rotate(-90)">25 Sep</text>
<line x1="462.5" y1="341.8" x2="462.5" y2="344.8" stroke="#999" stroke-width="1"/>
<text transform="translate(465.7,346.8) rotate(-90)">26 Sep</text>
<line x1="485.5" y1="341.8" x2="485.5" y2="344.8" stroke="#999" stroke-width="1"/>
<text transform="translate(488.7,346.8) rotate(-90)">27 Sep</text>
<line x1="508.5" y1="341.8" x2="508.5" y2="344.8" stroke="#999" stroke-width="1"/>
<text transform="translate(511.7,346.8) rotate(-90)">28 Sep</text>
<line x1="531.5" y1="341.8" x2="531.5" y2="344.8" stroke="#999" stroke-width="1"/>
<text transform="translate(534.7,346.8) rotate(-90)">29 Sep</text>
<line x1="554.5" y1="341.8" x2="554.5" y2="344.8" stroke="#999" stroke-width="1"/>
<text transform="translate(557.7,346.8) rotate(-90)">30 Sep</text>
<line x1="577.5" y1="341.8" x2="577.5" y2="344.8" stroke="#999" stroke-width="1"/>
<text transform="translate(580.7,346.8) rotate(-90)">01 Oct</text>
<line x1="600.5" y1="341.8" x2="600.5" y2="344.8" stroke="#999" stroke-width="1"/>
<text transform="translate(603.7,346.8) rotate(-90)">02 Oct</text>
<line x1="623.5" y1="341.8" x2="623.5" y2="344.8" stroke="#999" stroke-width="1"/>
<text transform="translate(626.7,346.8) rotate(-90)">03 Oct</text>
<line x1="646.5" y1="341.8" x2="646.5" y2="344.8" stroke="#999" stroke-width="1"/>
<text transform="translate(649.7,346.8) rotate(-90)">04 Oct</text>
<line x1="669.5" y1="341.8" x2="669.5" y2="344.8" stroke="#999" stroke-width="1"/>
<text transform="translate(672.7,346.8) rotate(-90)">05 Oct</text>
<line x1="692.5" y1="341.8" x2="692.5" y2="344.8" stroke="#999" stroke-width="1"/>
<text transform="translate(695.7,346.8) rotate(-90)">06 Oct</text>
<line x1="714.5" y1="341.8" x2="714.5" y2="344.8" stroke="#999" stroke-width="1"/>
<text transform="translate(710.7,346.8) rotate(-90)">07 Oct</text>
</g>
<text x="381.5" y="389.2" font-family="'Liberation Sans', sans-serif" font-size="9.1" font-weight="bold" fill="#262626" text-anchor="middle">Press Release Date</text>
<text transform="translate(11,185.3) rotate(-90)" font-family="'Liberation Sans', sans-serif" font-size="8.7" font-weight="bold" fill="#161616" text-anchor="middle">No. of Cases</text>
</svg>
<div class="figtitle"><b>Figure 5:</b> Number of Community Cases by Age</div>
<div class="band"><h1><span class="l1">往年<b class="d">12</b>月<b class="d">2</b>日热门新冠患者数据，往年<b class="d">12</b>月<b class="d">2</b>日</span><br><span class="l2">热门新冠患者数据解析，深度探讨与观点阐述</span></h1></div>
</body>
</html>
